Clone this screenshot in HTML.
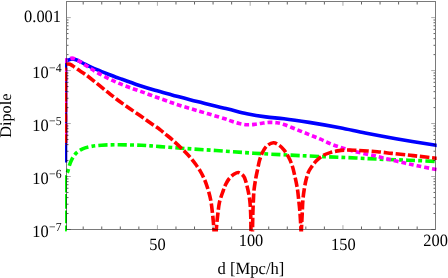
<!DOCTYPE html>
<html><head><meta charset="utf-8"><title>Dipole</title>
<style>
html,body{margin:0;padding:0;background:#fff;}
body{width:448px;height:278px;overflow:hidden;font-family:"Liberation Serif",serif;}
svg{display:block;will-change:transform;}
text{font-family:"Liberation Serif",serif;fill:#000;}
</style></head><body>
<svg width="448" height="278" viewBox="0 0 448 278">
<defs><clipPath id="cp"><rect x="65" y="1.0" width="371.7" height="230.6"/></clipPath></defs>
<g clip-path="url(#cp)" fill="none" stroke-linejoin="round"><g>
<path d="M65.50 162.50 L65.50 61.60 C65.63 61.30 65.66 60.89 65.90 60.70 C66.15 60.50 66.56 60.62 67.00 60.50 C67.67 60.32 68.66 59.87 69.50 59.60 C70.33 59.34 71.07 58.92 72.00 58.90 C73.17 58.87 74.69 59.36 76.00 59.80 C77.36 60.25 78.60 60.92 80.00 61.60 C81.58 62.37 83.33 63.36 85.00 64.20 C86.66 65.03 88.19 65.76 90.00 66.60 C92.13 67.58 94.34 68.58 97.00 69.70 C100.45 71.15 105.53 73.14 109.00 74.50 C111.64 75.54 113.75 76.37 116.00 77.20 C118.07 77.96 119.44 78.40 122.00 79.30 C126.56 80.90 135.13 84.06 141.00 86.00 C146.00 87.65 150.09 88.88 155.00 90.30 C160.38 91.85 165.78 93.23 172.00 94.90 C179.57 96.93 188.36 99.36 197.20 101.60 C206.94 104.06 218.98 106.80 228.00 109.00 C235.07 110.73 240.58 112.38 246.90 113.70 C253.15 115.01 259.46 116.06 265.70 116.90 C271.83 117.72 277.42 117.89 284.00 118.70 C291.74 119.65 300.39 120.98 309.20 122.40 C318.96 123.97 330.26 125.94 340.00 127.80 C348.83 129.49 356.37 131.27 365.20 133.00 C374.94 134.91 385.05 136.78 396.00 138.70 C408.45 140.88 429.59 144.29 436.00 145.30 C438.02 145.62 438.67 145.70 440.00 145.90" stroke="#0000ff" stroke-width="3.60"/>
<path d="M65.1 231.7 L65.1 183" stroke="#00ff00" stroke-width="3.60" stroke-dasharray="6.3 2.2 12.6 1.8 14.8 1.6 100"/>
<path d="M65.10 183.00 L65.10 179.00 C65.18 178.33 65.19 177.69 65.35 177.00 C65.53 176.23 65.84 175.45 66.20 174.60 C66.63 173.60 67.32 172.66 67.80 171.40 C68.43 169.74 68.72 167.40 69.40 165.40 C70.11 163.30 70.88 161.13 72.00 159.10 C73.18 156.96 74.62 154.61 76.40 152.90 C78.16 151.22 80.26 149.96 82.60 148.90 C85.20 147.72 88.34 147.01 91.40 146.40 C94.63 145.75 97.82 145.47 101.50 145.20 C105.89 144.88 110.50 144.82 116.00 144.80 C123.25 144.77 133.42 144.95 141.20 145.30 C147.93 145.60 153.28 146.11 160.00 146.60 C167.79 147.16 176.38 147.88 185.20 148.50 C194.95 149.18 205.20 149.76 216.00 150.50 C227.98 151.32 240.64 152.38 253.90 153.20 C268.51 154.10 283.88 154.84 300.00 155.60 C317.76 156.44 341.78 157.33 356.00 158.00 C364.75 158.41 369.47 158.76 377.20 159.10 C386.51 159.51 397.98 159.81 408.00 160.20 C417.56 160.58 430.88 161.23 436.00 161.40 C437.93 161.47 438.67 161.47 440.00 161.50" stroke="#00ff00" stroke-width="3.60" stroke-dasharray="9.1 3.15 3.85 3.15" stroke-dashoffset="1.3"/>
<path d="M65.5 143 L65.5 66" stroke="#ff00ff" stroke-width="3.60" stroke-dasharray="4.85 2.95" stroke-dashoffset="0.8"/>
<path d="M65.50 66.00 L65.50 61.00 C65.63 60.63 65.64 60.12 65.90 59.90 C66.15 59.69 66.56 59.82 67.00 59.70 C67.67 59.52 68.66 59.07 69.50 58.80 C70.33 58.54 71.07 58.09 72.00 58.10 C73.18 58.11 74.70 58.74 76.00 59.30 C77.37 59.89 78.61 60.73 80.00 61.60 C81.59 62.60 83.33 63.90 85.00 65.00 C86.66 66.09 88.21 67.09 90.00 68.20 C92.04 69.47 94.02 70.74 96.60 72.20 C100.10 74.19 105.29 76.96 109.20 78.90 C112.51 80.54 115.28 81.83 118.50 83.20 C121.87 84.64 125.36 85.95 129.00 87.30 C132.90 88.75 137.01 90.09 141.20 91.60 C145.66 93.21 150.39 95.03 155.00 96.70 C159.59 98.36 165.20 100.30 168.80 101.60 C171.12 102.44 171.95 102.84 174.50 103.70 C179.54 105.39 189.26 108.21 197.20 110.60 C205.95 113.23 218.66 116.79 224.80 118.80 C227.92 119.82 229.41 120.53 231.80 121.30 C234.25 122.09 236.77 122.93 239.30 123.50 C241.81 124.06 244.37 124.55 246.90 124.70 C249.40 124.85 251.90 124.65 254.40 124.40 C256.93 124.15 259.47 123.53 262.00 123.20 C264.50 122.87 267.00 122.47 269.50 122.40 C272.00 122.33 274.56 122.44 277.00 122.80 C279.39 123.15 281.36 123.66 284.00 124.50 C287.62 125.65 292.40 127.82 296.60 129.50 C300.80 131.18 305.12 132.94 309.20 134.60 C313.07 136.17 316.78 137.59 320.50 139.20 C324.18 140.79 327.59 142.70 331.40 144.20 C335.41 145.78 339.56 147.06 344.00 148.40 C348.88 149.87 354.14 151.30 359.50 152.60 C365.19 153.98 371.82 155.16 377.20 156.40 C381.74 157.45 385.33 158.44 389.70 159.50 C394.49 160.67 400.01 162.01 404.80 163.10 C409.13 164.09 412.70 164.88 417.20 165.80 C422.55 166.90 430.67 168.40 434.80 169.20 C437.05 169.63 438.27 169.87 440.00 170.20" stroke="#ff00ff" stroke-width="3.60" stroke-dasharray="4.85 2.95" stroke-dashoffset="4.8"/>
<path d="M65.5 145 L65.5 69.5" stroke="#ff0000" stroke-width="3.60" stroke-dasharray="8.85 1.5" stroke-dashoffset="8.35"/>
<path d="M65.50 69.50 L65.50 69.00 C65.60 68.23 65.61 67.40 65.80 66.70 C65.97 66.08 66.11 65.43 66.50 65.00 C66.90 64.56 67.61 64.21 68.20 64.10 C68.78 63.99 69.37 64.09 70.00 64.30 C70.81 64.57 71.59 65.16 72.60 65.80 C74.09 66.75 76.06 68.28 78.00 69.60 C80.22 71.10 82.57 72.43 85.20 74.30 C88.59 76.72 92.73 80.11 96.50 83.10 C100.33 86.14 104.51 89.61 108.00 92.40 C110.90 94.71 113.16 96.55 116.00 98.70 C119.13 101.07 122.37 103.43 126.00 106.00 C130.25 109.01 135.47 112.45 140.00 115.60 C144.32 118.61 148.95 121.95 152.60 124.50 C155.39 126.44 157.78 127.92 160.00 129.60 C161.92 131.05 163.31 132.34 165.20 133.90 C167.45 135.76 169.86 137.57 172.60 140.00 C176.30 143.28 181.97 148.73 185.20 152.00 C187.32 154.15 188.64 155.57 190.30 157.50 C192.01 159.50 193.67 161.57 195.30 163.80 C197.04 166.18 198.86 168.78 200.40 171.40 C201.93 174.01 203.23 176.50 204.50 179.50 C205.99 183.02 207.50 187.53 208.60 191.30 C209.58 194.67 210.28 197.61 210.90 201.00 C211.57 204.68 211.97 208.87 212.40 212.60 C212.80 216.05 213.13 219.41 213.40 222.60 C213.65 225.52 213.89 228.56 214.00 231.00 C214.09 232.88 214.07 234.33 214.10 236.00 L216.10 236.00 C216.13 234.33 216.10 232.88 216.20 231.00 C216.33 228.56 216.62 225.52 216.90 222.60 C217.21 219.41 217.58 215.93 218.00 212.60 C218.42 209.26 218.63 206.00 219.40 202.60 C220.24 198.91 221.86 194.53 223.00 191.30 C223.87 188.82 224.51 186.87 225.50 184.80 C226.48 182.77 227.48 180.77 228.90 179.00 C230.39 177.15 232.53 175.09 234.30 174.00 C235.65 173.17 236.93 172.36 238.30 172.50 C239.92 172.67 242.05 174.24 243.30 175.70 C244.58 177.19 245.09 179.34 245.80 181.40 C246.59 183.70 247.15 186.50 247.70 188.90 C248.20 191.09 248.64 193.19 249.00 195.20 C249.33 197.04 249.57 198.39 249.80 200.50 C250.14 203.59 250.40 207.69 250.60 212.00 C250.85 217.54 250.93 226.71 251.00 231.00 C251.03 233.20 251.03 234.33 251.05 236.00 L252.45 236.00 C252.47 234.33 252.47 233.20 252.50 231.00 C252.57 226.71 252.72 217.54 252.90 212.00 C253.04 207.69 253.21 204.23 253.40 200.50 C253.58 196.97 253.62 193.80 254.00 190.20 C254.42 186.20 255.22 181.39 255.90 177.60 C256.47 174.45 257.10 171.86 257.70 169.00 C258.30 166.16 258.68 163.30 259.50 160.50 C260.34 157.63 261.36 154.55 262.70 152.00 C263.93 149.66 265.25 147.24 267.10 145.70 C268.86 144.23 271.35 142.84 273.40 142.80 C275.31 142.76 277.28 143.97 279.00 145.10 C280.87 146.33 282.56 148.20 284.10 150.10 C285.75 152.13 287.20 154.56 288.50 157.00 C289.84 159.52 290.99 162.06 292.00 165.00 C293.17 168.40 294.02 172.42 294.90 176.30 C295.83 180.37 296.76 184.82 297.40 188.90 C298.00 192.70 298.29 196.23 298.70 200.00 C299.13 203.92 299.55 207.54 299.90 212.00 C300.34 217.60 300.85 226.70 301.00 231.00 C301.07 233.20 301.03 234.33 301.05 236.00 L301.35 236.00 C301.37 234.33 301.34 233.20 301.40 231.00 C301.52 226.70 302.03 217.61 302.30 212.00 C302.52 207.54 302.56 203.92 302.90 200.00 C303.23 196.22 303.72 192.46 304.30 188.90 C304.84 185.57 305.44 182.26 306.20 179.30 C306.87 176.68 307.55 174.12 308.50 172.00 C309.30 170.21 310.16 168.95 311.30 167.30 C312.70 165.27 314.50 162.74 316.40 160.80 C318.27 158.88 320.32 157.06 322.60 155.70 C324.91 154.32 327.64 153.41 330.20 152.60 C332.68 151.82 335.18 151.32 337.70 150.90 C340.21 150.48 342.55 150.22 345.30 150.10 C348.56 149.96 351.83 150.12 356.00 150.30 C361.87 150.55 370.77 151.12 377.20 151.70 C382.58 152.19 386.97 152.86 392.00 153.40 C397.23 153.96 403.40 154.50 408.00 155.00 C411.49 155.38 413.59 155.68 417.20 156.10 C422.36 156.70 432.04 157.78 436.00 158.20 C437.82 158.39 438.67 158.47 440.00 158.60" stroke="#ff0000" stroke-width="3.60" stroke-dasharray="9.4 2.8" stroke-dashoffset="7.4"/>
</g></g>
<g stroke="#000" stroke-width="1" fill="none" opacity="0.52">
<rect x="66.5" y="1.5" width="369.0" height="228.0"/>
</g>
<path d="M157.42 229.00 v-3.80 M157.42 2.00 v3.80 M250.18 229.00 v-3.80 M250.18 2.00 v3.80 M342.95 229.00 v-3.80 M342.95 2.00 v3.80 M67.00 229.48 h3.80 M435.00 229.48 h-3.80 M67.00 176.51 h3.80 M435.00 176.51 h-3.80 M67.00 123.54 h3.80 M435.00 123.54 h-3.80 M67.00 70.57 h3.80 M435.00 70.57 h-3.80 M67.00 17.60 h3.80 M435.00 17.60 h-3.80" stroke="#000" stroke-width="1" fill="none" opacity="0.33"/>
<path d="M83.20 229.00 v-2.50 M83.20 2.00 v2.50 M101.76 229.00 v-2.50 M101.76 2.00 v2.50 M120.31 229.00 v-2.50 M120.31 2.00 v2.50 M138.86 229.00 v-2.50 M138.86 2.00 v2.50 M175.97 229.00 v-2.50 M175.97 2.00 v2.50 M194.52 229.00 v-2.50 M194.52 2.00 v2.50 M213.07 229.00 v-2.50 M213.07 2.00 v2.50 M231.63 229.00 v-2.50 M231.63 2.00 v2.50 M268.73 229.00 v-2.50 M268.73 2.00 v2.50 M287.29 229.00 v-2.50 M287.29 2.00 v2.50 M305.84 229.00 v-2.50 M305.84 2.00 v2.50 M324.39 229.00 v-2.50 M324.39 2.00 v2.50 M361.50 229.00 v-2.50 M361.50 2.00 v2.50 M380.05 229.00 v-2.50 M380.05 2.00 v2.50 M398.60 229.00 v-2.50 M398.60 2.00 v2.50 M417.16 229.00 v-2.50 M417.16 2.00 v2.50 M67.00 213.53 h1.50 M435.00 213.53 h-1.50 M67.00 204.21 h1.50 M435.00 204.21 h-1.50 M67.00 197.59 h1.50 M435.00 197.59 h-1.50 M67.00 192.46 h1.50 M435.00 192.46 h-1.50 M67.00 188.26 h1.50 M435.00 188.26 h-1.50 M67.00 184.72 h1.50 M435.00 184.72 h-1.50 M67.00 181.64 h1.50 M435.00 181.64 h-1.50 M67.00 178.93 h1.50 M435.00 178.93 h-1.50 M67.00 160.56 h1.50 M435.00 160.56 h-1.50 M67.00 151.24 h1.50 M435.00 151.24 h-1.50 M67.00 144.62 h1.50 M435.00 144.62 h-1.50 M67.00 139.49 h1.50 M435.00 139.49 h-1.50 M67.00 135.29 h1.50 M435.00 135.29 h-1.50 M67.00 131.75 h1.50 M435.00 131.75 h-1.50 M67.00 128.67 h1.50 M435.00 128.67 h-1.50 M67.00 125.96 h1.50 M435.00 125.96 h-1.50 M67.00 107.59 h1.50 M435.00 107.59 h-1.50 M67.00 98.27 h1.50 M435.00 98.27 h-1.50 M67.00 91.65 h1.50 M435.00 91.65 h-1.50 M67.00 86.52 h1.50 M435.00 86.52 h-1.50 M67.00 82.32 h1.50 M435.00 82.32 h-1.50 M67.00 78.78 h1.50 M435.00 78.78 h-1.50 M67.00 75.70 h1.50 M435.00 75.70 h-1.50 M67.00 72.99 h1.50 M435.00 72.99 h-1.50 M67.00 54.62 h1.50 M435.00 54.62 h-1.50 M67.00 45.30 h1.50 M435.00 45.30 h-1.50 M67.00 38.68 h1.50 M435.00 38.68 h-1.50 M67.00 33.55 h1.50 M435.00 33.55 h-1.50 M67.00 29.35 h1.50 M435.00 29.35 h-1.50 M67.00 25.81 h1.50 M435.00 25.81 h-1.50 M67.00 22.73 h1.50 M435.00 22.73 h-1.50 M67.00 20.02 h1.50 M435.00 20.02 h-1.50" stroke="#000" stroke-width="1" fill="none" opacity="0.62"/>
<g style="text-rendering:geometricPrecision">
<text transform="translate(61.00 21.50) scale(1.000 1.050)" font-size="16.40" text-anchor="end">0.001</text>
<text transform="translate(32.20 78.10) scale(1.000 1.050)" font-size="16.40" text-anchor="start">10<tspan font-size="11.80" dx="0.4" dy="-5.6">−4</tspan></text>
<text transform="translate(32.20 131.00) scale(1.000 1.050)" font-size="16.40" text-anchor="start">10<tspan font-size="11.80" dx="0.4" dy="-5.6">−5</tspan></text>
<text transform="translate(32.20 184.00) scale(1.000 1.050)" font-size="16.40" text-anchor="start">10<tspan font-size="11.80" dx="0.4" dy="-5.6">−6</tspan></text>
<text transform="translate(32.20 237.00) scale(1.000 1.050)" font-size="16.40" text-anchor="start">10<tspan font-size="11.80" dx="0.4" dy="-5.6">−7</tspan></text>
<text transform="translate(157.42 249.80) scale(1.000 1.050)" font-size="16.40" text-anchor="middle">50</text>
<text transform="translate(250.98 246.00) scale(1.000 1.050)" font-size="16.40" text-anchor="middle">100</text>
<text transform="translate(343.35 249.80) scale(1.000 1.050)" font-size="16.40" text-anchor="middle">150</text>
<text transform="translate(435.61 246.00) scale(1.000 1.050)" font-size="16.40" text-anchor="middle">200</text>
<text transform="translate(250.90 274.20) scale(1.000 1.040)" font-size="16.60" text-anchor="middle">d [Mpc/h]</text>
<text transform="translate(11.0 115.7) rotate(-90)" font-size="16.30" text-anchor="middle">Dipole</text>
</g>
</svg></body></html>
